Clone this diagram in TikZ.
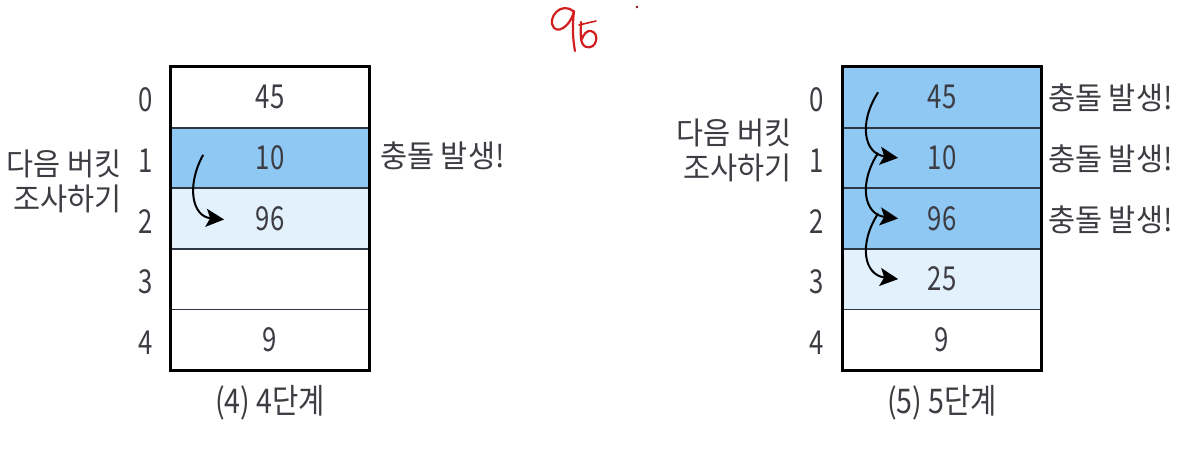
\documentclass[tikz,border=0pt]{standalone}
\usepackage{fontspec}
\setmainfont{Noto Sans CJK KR}[FakeStretch=0.95]
\newfontfamily\numfont{Noto Sans CJK KR}[FakeStretch=0.78]
\newfontfamily\capfont{Noto Sans CJK KR}[FakeStretch=0.84]
\usetikzlibrary{calc,arrows.meta}
\definecolor{dblue}{RGB}{142,200,243}
\definecolor{lblue}{RGB}{227,241,252}
\definecolor{txt}{RGB}{60,60,66}
\definecolor{rline}{RGB}{45,55,70}
\definecolor{hand}{RGB}{210,30,30}
\tikzset{
  cell/.style={draw=rline, line width=1.8pt, minimum width=198pt, minimum height=60.6pt, inner sep=0pt, text=txt, font=\numfont\fontsize{33}{34}\selectfont},
  idx/.style={text=txt, font=\numfont\fontsize{33}{34}\selectfont, inner sep=0pt},
  lab/.style={text=txt, font=\fontsize{31}{35}\selectfont, inner sep=0pt},
  captxt/.style={text=txt, font=\capfont\fontsize{34}{36}\selectfont, inner sep=0pt},
  outer/.style={draw=black, line width=3pt},
  probe/.style={-{Stealth[length=18pt,width=18pt,inset=4pt]}, line width=2pt, black},
}
\begin{document}
\begin{tikzpicture}[x=1pt,y=-1pt]
\useasboundingbox (0,0) rectangle (1187,448);
% ---------- left table ----------
\node[cell, fill=white] (L0) at (270,97.3) {45};
\node[cell, fill=dblue] (L1) at (270,157.9) {10};
\node[cell, fill=lblue] (L2) at (270,218.5) {96};
\node[cell, fill=white] (L3) at (270,279.1) {};
\node[cell, fill=white] (L4) at (270,339.7) {9};
\draw[outer] (L0.north west) rectangle (L4.south east);
\foreach \i in {0,...,4} \node[idx] (Li\i) at (146,{100+60.6*\i}) {\i};
\node[lab, anchor=east, align=right] (Lnote) at (122,181) {다음 버킷\\조사하기};
\node[lab, anchor=west] (Lcol) at (380,156) {충돌 발생!};
\draw[probe] ($(L1.west)+(33,-3)$) .. controls ($(L1.west)+(16,28)$) and ($(L2.west)+(22,-2)$) .. ($(L2.west)+(54,1)$);
\node[captxt] (Lcap) at (270,403) {(4) 4단계};
% ---------- right table ----------
\node[cell, fill=dblue] (R0) at (942,97.3) {45};
\node[cell, fill=dblue] (R1) at (942,157.9) {10};
\node[cell, fill=dblue] (R2) at (942,218.5) {96};
\node[cell, fill=lblue] (R3) at (942,279.1) {25};
\node[cell, fill=white] (R4) at (942,339.7) {9};
\draw[outer] (R0.north west) rectangle (R4.south east);
\foreach \i in {0,...,4} \node[idx] (Ri\i) at (817,{100+60.6*\i}) {\i};
\node[lab, anchor=east, align=right] (Rnote) at (792,150) {다음 버킷\\조사하기};
\node[lab, anchor=west] (Rc0) at (1048,98) {충돌 발생!};
\node[lab, anchor=west] (Rc1) at (1048,159) {충돌 발생!};
\node[lab, anchor=west] (Rc2) at (1048,220) {충돌 발생!};
\foreach \a/\b in {R0/R1,R1/R2,R2/R3}
  \draw[probe] ($(\a.west)+(36,-5)$) .. controls ($(\a.west)+(16,26)$) and ($(\b.west)+(22,-4)$) .. ($(\b.west)+(56,0)$);
\node[captxt] (Rcap) at (942,403) {(5) 5단계};
% ---------- handwritten note ----------
\draw[hand, line width=2.2pt, line cap=round, line join=round]
  (574,12) .. controls (562,0) and (546,18) .. (554,28) .. controls (561,34) and (572,22) .. (574,11)
  .. controls (572,28) and (573,40) .. (575,51);
\draw[hand, line width=2.2pt, line cap=round, line join=round]
  (581,22) .. controls (581,32) and (579,44) .. (586,47) .. controls (597,50) and (600,33) .. (591,31) .. controls (587,30) and (583,35) .. (582,39);
\draw[hand, line width=1.6pt, line cap=round] (579,25) -- (596,21);
\fill[hand!60!black] (637,7) circle (1.3pt);
\end{tikzpicture}
\end{document}
